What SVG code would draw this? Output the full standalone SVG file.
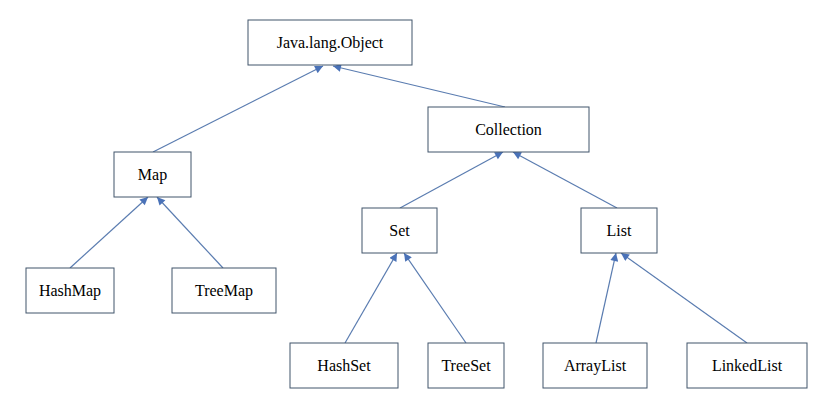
<svg xmlns="http://www.w3.org/2000/svg" width="825" height="406" viewBox="0 0 825 406">
<style>
.box{fill:#fff;stroke:#41546b;stroke-width:1}
.lbl{font-family:"Liberation Serif","Times New Roman",serif;font-size:16px;fill:#000;text-anchor:middle}
.edge{stroke:#5a7cb0;stroke-width:1.2;fill:none;marker-end:url(#arr)}
</style>
<defs>
<marker id="arr" viewBox="0 0 10 10" refX="10" refY="5" markerWidth="9" markerHeight="8" markerUnits="userSpaceOnUse" orient="auto">
<path d="M0,0 L10,5 L0,10 z" fill="#4a72b8"/>
</marker>
</defs>
<rect width="825" height="406" fill="#fff"/>
<g id="connectors">
<line class="edge" x1="153" y1="152" x2="323" y2="66"/>
<line class="edge" x1="505" y1="107" x2="333" y2="66"/>
<line class="edge" x1="70" y1="268" x2="148" y2="197"/>
<line class="edge" x1="223" y1="268" x2="157" y2="197"/>
<line class="edge" x1="400" y1="208" x2="503" y2="152"/>
<line class="edge" x1="617" y1="208" x2="513" y2="152"/>
<line class="edge" x1="345" y1="343" x2="397" y2="253"/>
<line class="edge" x1="466" y1="343" x2="404" y2="253"/>
<line class="edge" x1="596" y1="343" x2="616" y2="253"/>
<line class="edge" x1="747" y1="343" x2="621" y2="253"/>
</g>
<g id="object"><rect class="box" x="248" y="20" width="164" height="45"/><text class="lbl" x="330" y="48">Java.lang.Object</text></g>
<g id="collection"><rect class="box" x="428" y="107" width="161" height="45"/><text class="lbl" x="508.5" y="135">Collection</text></g>
<g id="map"><rect class="box" x="114" y="152" width="77" height="45"/><text class="lbl" x="152.5" y="180">Map</text></g>
<g id="hashmap"><rect class="box" x="26" y="268" width="88" height="45"/><text class="lbl" x="70" y="296">HashMap</text></g>
<g id="treemap"><rect class="box" x="172" y="268" width="104" height="45"/><text class="lbl" x="224" y="296">TreeMap</text></g>
<g id="set"><rect class="box" x="362" y="208" width="75" height="45"/><text class="lbl" x="399.5" y="236">Set</text></g>
<g id="list"><rect class="box" x="581" y="208" width="76" height="45"/><text class="lbl" x="619" y="236">List</text></g>
<g id="hashset"><rect class="box" x="290" y="343" width="108" height="45"/><text class="lbl" x="344" y="371">HashSet</text></g>
<g id="treeset"><rect class="box" x="428" y="343" width="76" height="45"/><text class="lbl" x="466" y="371">TreeSet</text></g>
<g id="arraylist"><rect class="box" x="543" y="343" width="104" height="45"/><text class="lbl" x="595" y="371">ArrayList</text></g>
<g id="linkedlist"><rect class="box" x="687" y="343" width="120" height="45"/><text class="lbl" x="747" y="371">LinkedList</text></g>
</svg>
